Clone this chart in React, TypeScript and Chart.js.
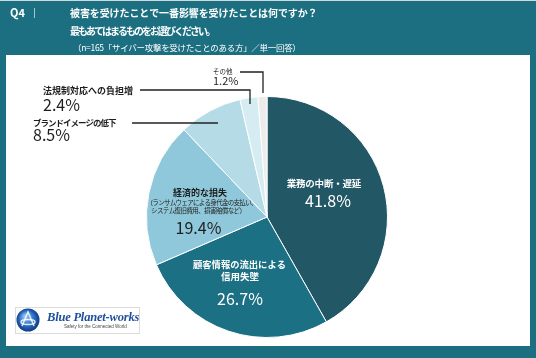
import React, { useEffect, useRef } from 'react';
import { Chart, registerables } from 'chart.js';

Chart.register(...registerables);

const categories = [
  '業務の中断・遅延',
  '顧客情報の流出による信用失墜',
  '経済的な損失',
  'ブランドイメージの低下',
  '法規制対応への負担増',
  'その他',
];
const values = [41.8, 26.7, 19.4, 8.5, 2.4, 1.2];
const colors = ['#225766', '#1b7084', '#8fc8da', '#b5dbe7', '#d6ecf3', '#ececec'];
const valueLabels = values.map((v) => v.toFixed(1) + '%');
const questionNo = 'Q4';
const titleLines = ['被害を受けたことで一番影響を受けたことは何ですか？', '最もあてはまるものをお選びください。'];
const subtitle = '（n=165「サイバー攻撃を受けたことのある方」／単一回答）';
const economicNote = ['（ランサムウェアによる身代金の支払い、', 'システム復旧費用、損害賠償など）'];
const logoName = 'Blue Planet-works';
const logoTagline = 'Safety for the Connected World';

const JP = '"Noto Sans CJK JP", "Noto Sans", sans-serif';
const TEAL = '#1b6f81';

function txt(
  ctx: CanvasRenderingContext2D,
  s: string,
  x: number,
  y: number,
  font: string,
  color: string,
  align: CanvasTextAlign = 'left',
  spacing = 0
) {
  ctx.save();
  ctx.font = font;
  ctx.fillStyle = color;
  ctx.textBaseline = 'middle';
  (ctx as any).letterSpacing = spacing + 'px';
  let xx = x;
  if (align !== 'left') {
    const w = ctx.measureText(s).width - spacing;
    xx = align === 'center' ? x - w / 2 : x - w;
  }
  ctx.textAlign = 'left';
  ctx.fillText(s, xx, y);
  ctx.restore();
}

function line(ctx: CanvasRenderingContext2D, pts: number[][]) {
  ctx.save();
  ctx.strokeStyle = '#222';
  ctx.lineWidth = 1.3;
  ctx.beginPath();
  pts.forEach((p, i) => (i ? ctx.lineTo(p[0], p[1]) : ctx.moveTo(p[0], p[1])));
  ctx.stroke();
  ctx.restore();
}

const framePlugin = {
  id: 'frame',
  beforeDraw(chart: any) {
    const ctx: CanvasRenderingContext2D = chart.ctx;
    const W = chart.width;
    const H = chart.height;
    ctx.save();
    ctx.fillStyle = TEAL;
    ctx.fillRect(0, 0, W, H);
    ctx.fillStyle = '#cfd8da';
    ctx.fillRect(0, 0, W, 1);
    ctx.fillStyle = '#ffffff';
    ctx.fillRect(6, 55, W - 12, H - 55 - 12);
    ctx.restore();

    // header
    txt(ctx, questionNo, 10, 13, `bold 11px ${JP}`, '#fff');
    ctx.save();
    ctx.strokeStyle = 'rgba(255,255,255,0.6)';
    ctx.lineWidth = 1;
    ctx.beginPath();
    ctx.moveTo(34.5, 8);
    ctx.lineTo(34.5, 18);
    ctx.stroke();
    ctx.restore();
    txt(ctx, titleLines[0], 70, 13, `bold 10px ${JP}`, '#fff', 'left', -0.1);
    txt(ctx, titleLines[1], 70, 31.5, `bold 10px ${JP}`, '#fff', 'left', -2);
    txt(ctx, subtitle, 73, 47.5, `8.5px ${JP}`, '#fff', 'left', -0.3);

    // logo
    ctx.save();
    ctx.strokeStyle = '#dcdcdc';
    ctx.lineWidth = 1;
    ctx.strokeRect(15.5, 307.5, 124, 26);
    const g = ctx.createRadialGradient(25, 316, 1, 28, 320, 12);
    g.addColorStop(0, '#8fc3f0');
    g.addColorStop(0.6, '#2a6cc4');
    g.addColorStop(1, '#0c3580');
    ctx.fillStyle = g;
    ctx.beginPath();
    ctx.arc(28, 320, 11.5, 0, Math.PI * 2);
    ctx.fill();
    ctx.strokeStyle = 'rgba(255,255,255,0.85)';
    ctx.lineWidth = 1.5;
    ctx.beginPath();
    ctx.moveTo(22, 326);
    ctx.lineTo(28, 312);
    ctx.lineTo(34, 326);
    ctx.stroke();
    ctx.beginPath();
    ctx.ellipse(28, 322, 7, 2.5, 0, 0, Math.PI * 2);
    ctx.stroke();
    ctx.restore();
    txt(ctx, logoName, 47, 318, `italic bold 12.5px "Liberation Serif", serif`, '#1d4f9c', 'left', -0.2);
    txt(ctx, logoTagline, 64, 326.5, `4.5px "Liberation Sans", sans-serif`, '#444');
  },
  afterDatasetsDraw(chart: any) {
    const ctx: CanvasRenderingContext2D = chart.ctx;
    const arc = chart.getDatasetMeta(0).data[0];
    const cx = arc.x;
    const cy = arc.y;
    const W = '#ffffff';
    const D = '#1e1e1e';

    // inside labels
    txt(ctx, categories[0], cx + 57, cy - 33.5, `bold 9.5px ${JP}`, W, 'center', -0.2);
    txt(ctx, valueLabels[0], cx + 61, cy - 16.5, `16px ${JP}`, W, 'center');

    txt(ctx, '顧客情報の流出による', cx - 27.5, cy + 47.5, `bold 9.3px ${JP}`, W, 'center');
    txt(ctx, '信用失墜', cx - 27, cy + 59, `bold 9.5px ${JP}`, W, 'center');
    txt(ctx, valueLabels[1], cx - 27, cy + 81.5, `16px ${JP}`, W, 'center');

    txt(ctx, categories[2], cx - 67, cy - 24.5, `bold 9px ${JP}`, D, 'center');
    txt(ctx, economicNote[0], cx - 65, cy - 14.5, `6.5px ${JP}`, D, 'center', -0.7);
    txt(ctx, economicNote[1], cx - 68.5, cy - 6.5, `6.5px ${JP}`, D, 'center', -0.6);
    txt(ctx, valueLabels[2], cx - 68.5, cy + 10.5, `16px ${JP}`, D, 'center');

    // outside labels
    txt(ctx, categories[3], 33, 122.5, `bold 8.5px ${JP}`, D, 'left', -1);
    txt(ctx, valueLabels[3], 33, 135, `16px ${JP}`, D);
    line(ctx, [[132, 123], [218, 123]]);

    txt(ctx, categories[4], 43, 91, `bold 9px ${JP}`, D, 'left', 0);
    txt(ctx, valueLabels[4], 43, 105, `16px ${JP}`, D);
    line(ctx, [[140, 90], [250, 90], [250, 104]]);

    txt(ctx, categories[5], 213, 71.5, `6.5px ${JP}`, D);
    txt(ctx, valueLabels[5], 213, 81, `11px ${JP}`, D);
    line(ctx, [[240, 72], [263, 72], [263, 93]]);
  },
};

export default function App() {
  const ref = useRef<HTMLCanvasElement | null>(null);
  useEffect(() => {
    if (!ref.current) return;
    const chart = new Chart(ref.current, {
      type: 'pie',
      data: {
        labels: categories,
        datasets: [
          {
            data: values,
            backgroundColor: colors,
            borderColor: '#ffffff',
            borderWidth: 1,
            hoverOffset: 0,
            offset: 0,
          },
        ],
      },
      options: {
        animation: false,
        responsive: false,
        maintainAspectRatio: false,
        events: [],
        layout: { padding: { left: 146, right: 148, top: 96, bottom: 20 } },
        plugins: {
          legend: { display: false },
          tooltip: { enabled: false },
          title: { display: false },
        },
      },
      plugins: [framePlugin],
    });
    return () => chart.destroy();
  }, []);
  return (
    <div style={{ position: 'fixed', left: 0, top: 0, width: 536, height: 358 }}>
      <canvas ref={ref} width={536} height={358} style={{ width: 536, height: 358, display: 'block' }} />
    </div>
  );
}
